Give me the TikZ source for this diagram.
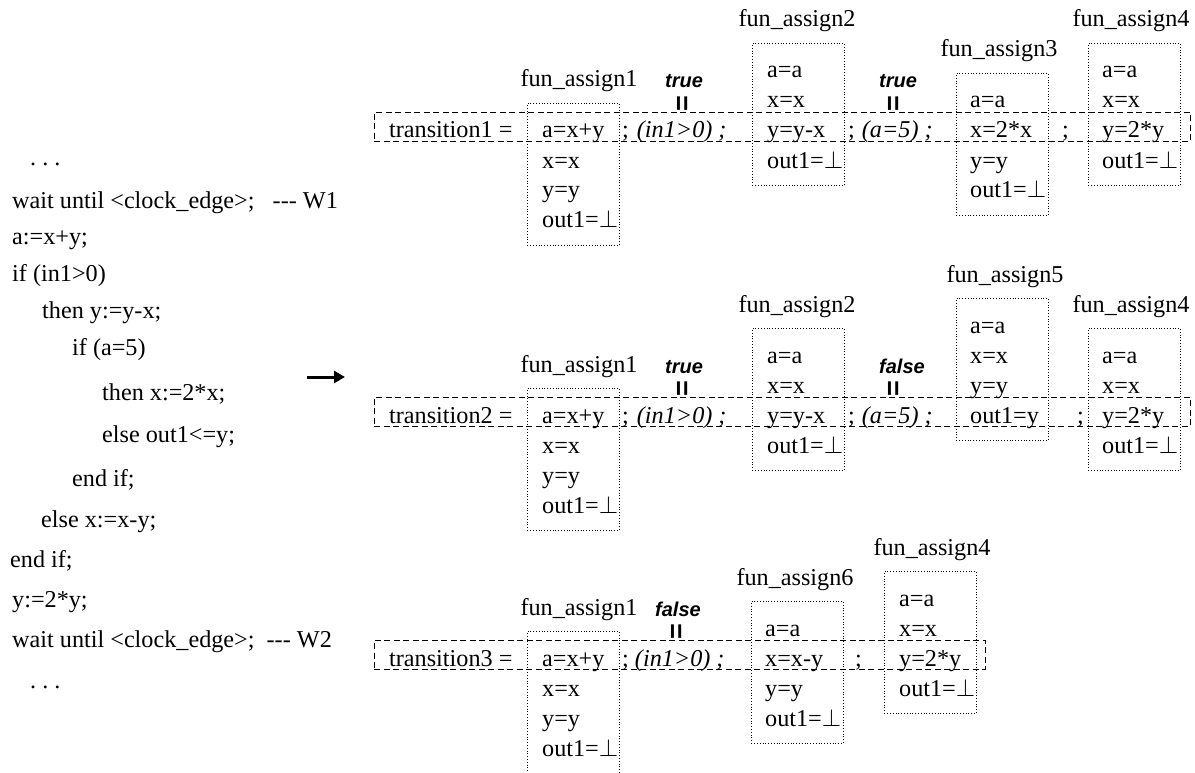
\documentclass[tikz,border=0pt]{standalone}
\usepackage{fontspec}
\setmainfont{Liberation Serif}
\newfontfamily\condfont{Liberation Sans}
\usetikzlibrary{arrows.meta}
\newcommand{\bigtxt}{\fontsize{24.2}{28}\selectfont}
\newcommand{\condtxt}{\condfont\fontsize{20}{24}\selectfont\bfseries\itshape}
\newcommand{\eqvtxt}{\condfont\fontsize{27}{30}\selectfont\bfseries}

\begin{document}
\begin{tikzpicture}[x=1pt,y=-1pt,
    txt/.style={anchor=base west,inner sep=0pt,font=\bigtxt},
    ttl/.style={anchor=base,inner sep=0pt,font=\bigtxt},
    cond/.style={anchor=base,inner sep=0pt,font=\condtxt},
    eqv/.style={inner sep=0pt,rotate=90,font=\eqvtxt},
    fbox/.style={draw,line width=.9pt,dash pattern=on 1pt off 1.8pt,anchor=north west,
        minimum width=92pt,minimum height=142pt,inner sep=0pt},
    trbox/.style={draw,line width=.8pt,dash pattern=on 6pt off 3.5pt,anchor=north west,
        minimum height=29pt,inner sep=0pt}]
    \useasboundingbox (0,0) rectangle (1195,773);
    % the process
    \node[txt] (c0) at (30,166) {.\ .\ .};
    \node[txt] (c1) at (12,208) {wait until <clock\_edge>;\ \ \ -{}-{}- W1};
    \node[txt] (c2) at (12,244) {a:=x+y;};
    \node[txt] (c3) at (12,281) {if (in1>0)};
    \node[txt] (c4) at (42,318) {then y:=y-x;};
    \node[txt] (c5) at (72,355) {if (a=5)};
    \node[txt] (c6) at (102,400) {then x:=2*x;};
    \node[txt] (c7) at (102,442) {else out1<=y;};
    \node[txt] (c8) at (72,486) {end if;};
    \node[txt] (c9) at (41,527) {else x:=x-y;};
    \node[txt] (c10) at (10,567) {end if;};
    \node[txt] (c11) at (12,607) {y:=2*y;};
    \node[txt] (c12) at (12,647) {wait until <clock\_edge>;\ \ -{}-{}- W2};
    \node[txt] (c13) at (30,688) {.\ .\ .};
    \coordinate (ta) at (307,377);
    \coordinate (tb) at (345,377);
    \draw[line width=3pt,-{Triangle[length=11pt,width=12pt]}] (ta) -- (tb);

    % transition1
    \node[trbox,minimum width=816pt] (r1) at (374,112) {};
    \node[txt] (r1t) at (389,138) {transition1 =};
    \node[fbox] (r1b1) at (527,103) {};
    \node[ttl] (r1n1) at (579,87) {fun\_assign1};
    \node[txt] (r1b1a) at (542,138) {a=x+y};
    \node[txt] (r1b1b) at (542,168) {x=x};
    \node[txt] (r1b1c) at (542,198) {y=y};
    \node[txt] (r1b1d) at (542,228) {out1=$\perp$};
    \node[txt] (r1s1) at (622,138) {;\hspace{8pt}\textit{(in1>0) ;}};
    \node[cond] (r1c1) at (684,88) {true};
    \node[eqv] (r1e1) at (684,104) {=};
    \node[fbox] (r1b2) at (752,43) {};
    \node[ttl] (r1n2) at (797,27) {fun\_assign2};
    \node[txt] (r1b2a) at (767,78) {a=a};
    \node[txt] (r1b2b) at (767,108) {x=x};
    \node[txt] (r1b2c) at (767,138) {y=y-x};
    \node[txt] (r1b2d) at (767,168) {out1=$\perp$};
    \node[txt] (r1s2) at (848,138) {;\hspace{7pt}\textit{(a=5) ;}};
    \node[cond] (r1c2) at (898,88) {true};
    \node[eqv] (r1e2) at (895,104) {=};
    \node[fbox] (r1b3) at (956,73) {};
    \node[ttl] (r1n3) at (999,57) {fun\_assign3};
    \node[txt] (r1b3a) at (970,108) {a=a};
    \node[txt] (r1b3b) at (970,138) {x=2*x};
    \node[txt] (r1b3c) at (970,168) {y=y};
    \node[txt] (r1b3d) at (970,198) {out1=$\perp$};
    \node[txt] (r1s3) at (1062,138) {;};
    \node[fbox] (r1b4) at (1088,43) {};
    \node[ttl] (r1n4) at (1131,27) {fun\_assign4};
    \node[txt] (r1b4a) at (1102,78) {a=a};
    \node[txt] (r1b4b) at (1102,108) {x=x};
    \node[txt] (r1b4c) at (1102,138) {y=2*y};
    \node[txt] (r1b4d) at (1102,168) {out1=$\perp$};

    % transition2
    \node[trbox,minimum width=816pt] (r2) at (374,397) {};
    \node[txt] (r2t) at (389,423) {transition2 =};
    \node[fbox] (r2b1) at (527,388) {};
    \node[ttl] (r2n1) at (579,372) {fun\_assign1};
    \node[txt] (r2b1a) at (542,423) {a=x+y};
    \node[txt] (r2b1b) at (542,453) {x=x};
    \node[txt] (r2b1c) at (542,483) {y=y};
    \node[txt] (r2b1d) at (542,513) {out1=$\perp$};
    \node[txt] (r2s1) at (622,423) {;\hspace{8pt}\textit{(in1>0) ;}};
    \node[cond] (r2c1) at (684,373) {true};
    \node[eqv] (r2e1) at (684,389) {=};
    \node[fbox] (r2b2) at (752,328) {};
    \node[ttl] (r2n2) at (797,312) {fun\_assign2};
    \node[txt] (r2b2a) at (767,363) {a=a};
    \node[txt] (r2b2b) at (767,393) {x=x};
    \node[txt] (r2b2c) at (767,423) {y=y-x};
    \node[txt] (r2b2d) at (767,453) {out1=$\perp$};
    \node[txt] (r2s2) at (848,423) {;\hspace{7pt}\textit{(a=5) ;}};
    \node[cond] (r2c2) at (902,373) {false};
    \node[eqv] (r2e2) at (895,389) {=};
    \node[fbox] (r2b5) at (956,298) {};
    \node[ttl] (r2n5) at (1005,282) {fun\_assign5};
    \node[txt] (r2b5a) at (970,333) {a=a};
    \node[txt] (r2b5b) at (970,363) {x=x};
    \node[txt] (r2b5c) at (970,393) {y=y};
    \node[txt] (r2b5d) at (970,423) {out1=y};
    \node[txt] (r2s3) at (1077,423) {;};
    \node[fbox] (r2b4) at (1088,328) {};
    \node[ttl] (r2n4) at (1131,312) {fun\_assign4};
    \node[txt] (r2b4a) at (1102,363) {a=a};
    \node[txt] (r2b4b) at (1102,393) {x=x};
    \node[txt] (r2b4c) at (1102,423) {y=2*y};
    \node[txt] (r2b4d) at (1102,453) {out1=$\perp$};

    % transition3
    \node[trbox,minimum width=611pt] (r3) at (374,640) {};
    \node[txt] (r3t) at (389,666) {transition3 =};
    \node[fbox] (r3b1) at (527,631) {};
    \node[ttl] (r3n1) at (579,615) {fun\_assign1};
    \node[txt] (r3b1a) at (542,666) {a=x+y};
    \node[txt] (r3b1b) at (542,696) {x=x};
    \node[txt] (r3b1c) at (542,726) {y=y};
    \node[txt] (r3b1d) at (542,756) {out1=$\perp$};
    \node[txt] (r3s1) at (622,666) {; \textit{(in1>0) ;}};
    \node[cond] (r3c1) at (678,616) {false};
    \node[eqv] (r3e1) at (678,632) {=};
    \node[fbox] (r3b6) at (751,601) {};
    \node[ttl] (r3n6) at (795,585) {fun\_assign6};
    \node[txt] (r3b6a) at (765,636) {a=a};
    \node[txt] (r3b6b) at (765,666) {x=x-y};
    \node[txt] (r3b6c) at (765,696) {y=y};
    \node[txt] (r3b6d) at (765,726) {out1=$\perp$};
    \node[txt] (r3s2) at (855,666) {;};
    \node[fbox] (r3b4) at (884,571) {};
    \node[ttl] (r3n4) at (932,555) {fun\_assign4};
    \node[txt] (r3b4a) at (899,606) {a=a};
    \node[txt] (r3b4b) at (899,636) {x=x};
    \node[txt] (r3b4c) at (899,666) {y=2*y};
    \node[txt] (r3b4d) at (899,696) {out1=$\perp$};
\end{tikzpicture}
\end{document}
